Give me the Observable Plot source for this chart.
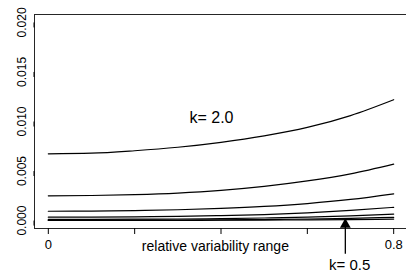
<!DOCTYPE html>
<html>
<head>
<meta charset="utf-8">
<script src="https://cdn.jsdelivr.net/npm/d3@7"></script>
<script src="https://cdn.jsdelivr.net/npm/@observablehq/plot@0.6"></script>
<style>
  html, body { margin: 0; padding: 0; background: white; }
  #chart { width: 406px; height: 273px; }
</style>
</head>
<body>
<div id="chart"></div>
<script>
// x positions (relative variability range)
const xVals = [0, 0.1, 0.2, 0.3, 0.4, 0.5, 0.6, 0.7, 0.8];
// series values (one curve per k)
const kNames = ["2.0", "1.75", "1.5", "1.25", "1.0", "0.75", "0.5"];
const k20  = [0.00674, 0.00680, 0.00705, 0.00740, 0.00790, 0.00855, 0.00940, 0.01060, 0.01220];
const k175 = [0.00250, 0.00253, 0.00262, 0.00278, 0.00305, 0.00345, 0.00400, 0.00472, 0.00570];
const k150 = [0.00094, 0.00096, 0.00101, 0.00109, 0.00123, 0.00143, 0.00172, 0.00213, 0.00270];
const k125 = [0.00034, 0.00035, 0.00038, 0.00042, 0.00050, 0.00061, 0.00078, 0.00102, 0.00134];
const k100 = [0.00012, 0.00013, 0.00014, 0.00016, 0.00020, 0.00026, 0.00035, 0.00048, 0.00066];
const k075 = [0.00004, 0.000045, 0.00005, 0.00006, 0.00008, 0.00011, 0.00016, 0.00023, 0.00032];
const k050 = [0.000015, 0.000016, 0.00002, 0.000024, 0.000032, 0.000046, 0.00007, 0.0001, 0.00015];
const seriesList = [k20, k175, k150, k125, k100, k075, k050];

// tick values / labels
const xTicks = [0, 0.2, 0.4, 0.6, 0.8];
const xTickLabels = ["0", "", "", "", "0.8"];
const yTicks = [0, 0.005, 0.010, 0.015, 0.020];
const yTickLabels = ["0.000", "0.005", "0.010", "0.015", "0.020"];
const xTitle = "relative variability range";

// annotations
const labelTop = {text: "k= 2.0", x: 0.378, y: 0.01035};
const labelBottom = {text: "k= 0.5", x: 0.698, y: -0.00452};
const arrow = {x: 0.688, y1: -0.0034, y2: 0.0};

const rows = [];
seriesList.forEach((vals, i) => {
  vals.forEach((v, j) => rows.push({k: kNames[i], x: xVals[j], y: v}));
});

const chart = Plot.plot({
  width: 406,
  height: 273,
  marginLeft: 34,
  marginRight: -1,
  marginTop: 14,
  marginBottom: 45,
  x: {domain: [-0.032, 0.832]},
  y: {domain: [-0.0008, 0.0208]},
  style: {fontFamily: "'Liberation Sans', Arial, sans-serif", background: "white", color: "black"},
  marks: [
    Plot.frame({stroke: "black", strokeOpacity: 0.85}),
    Plot.axisY({
      ticks: yTicks, tickSize: 5, tickPadding: 7, rotate: -90, textAnchor: "middle",
      tickFormat: d => yTickLabels[yTicks.indexOf(d)],
      fontSize: 12, fontFamily: "'Liberation Sans Narrow', 'Liberation Sans', sans-serif",
      label: null
    }),
    Plot.axisX({
      ticks: xTicks, tickSize: 6, tickPadding: 5,
      tickFormat: d => xTickLabels[xTicks.indexOf(d)],
      fontSize: 13, label: null
    }),
    Plot.text([xTitle], {x: () => 0.387, frameAnchor: "bottom", text: d => d, dy: 18, fontSize: 14, lineAnchor: "middle"}),
    Plot.line(rows, {x: "x", y: "y", z: "k", stroke: "black", strokeWidth: 1.2, curve: "monotone-x"}),
    Plot.text([labelTop], {x: "x", y: "y", text: "text", fontSize: 16}),
    Plot.text([labelBottom], {x: "x", y: "y", text: "text", fontSize: 15}),
    Plot.ruleX([arrow], {x: "x", y1: "y1", y2: "y2", stroke: "black", strokeWidth: 1.3}),
    Plot.dot([arrow], {x: "x", y: "y2", symbol: "triangle", r: 4, fill: "black", stroke: "none", dy: 4})
  ]
});
document.getElementById("chart").appendChild(chart);
</script>
</body>
</html>
